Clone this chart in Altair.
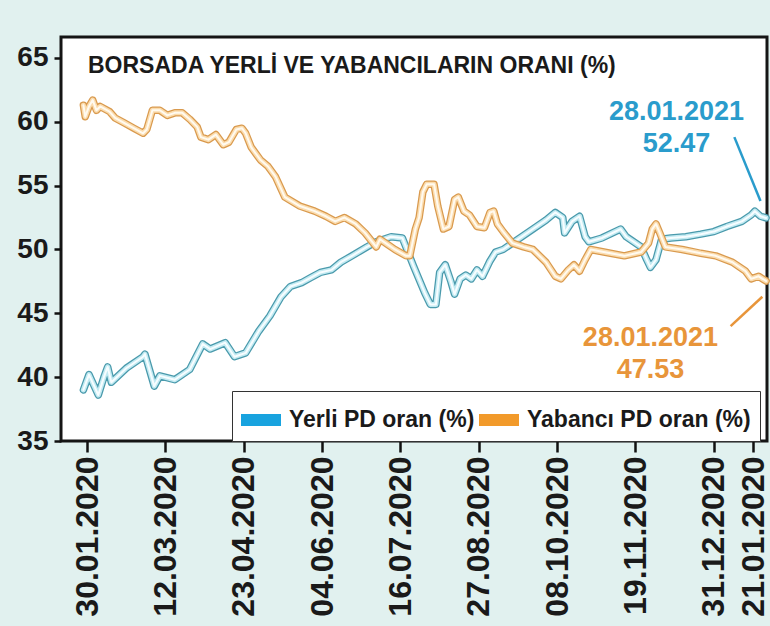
import altair as alt
import pandas as pd

# ---------------- data ----------------
yerli_dates = [
    "2020-01-28", "2020-01-31", "2020-02-05", "2020-02-08", "2020-02-10", "2020-02-12",
    "2020-02-20", "2020-02-29", "2020-03-01", "2020-03-06", "2020-03-09", "2020-03-17",
    "2020-03-25", "2020-04-01", "2020-04-05", "2020-04-13", "2020-04-18", "2020-04-24",
    "2020-05-01", "2020-05-07", "2020-05-13", "2020-05-18", "2020-05-24", "2020-05-29",
    "2020-06-03", "2020-06-09", "2020-06-14", "2020-06-20", "2020-06-28", "2020-07-03",
    "2020-07-11", "2020-07-17", "2020-07-23", "2020-07-29", "2020-08-01", "2020-08-04",
    "2020-08-06", "2020-08-09", "2020-08-12", "2020-08-14", "2020-08-17", "2020-08-20",
    "2020-08-23", "2020-08-26", "2020-08-29", "2020-09-02", "2020-09-05", "2020-09-09",
    "2020-09-14", "2020-09-25", "2020-10-02", "2020-10-07", "2020-10-11", "2020-10-12",
    "2020-10-16", "2020-10-20", "2020-10-23", "2020-10-25", "2020-11-01", "2020-11-11",
    "2020-11-14", "2020-11-22", "2020-11-25", "2020-11-27", "2020-11-30", "2020-12-03",
    "2020-12-08", "2020-12-16", "2020-12-24", "2020-12-31", "2021-01-07", "2021-01-15",
    "2021-01-20", "2021-01-22", "2021-01-25", "2021-01-28",
]
yerli_values = [
    39.0, 40.2, 38.6, 40.0, 40.8, 39.6,
    40.7, 41.6, 41.8, 39.3, 40.1, 39.8,
    40.6, 42.6, 42.2, 42.7, 41.6, 41.9,
    43.6, 44.8, 46.3, 47.1, 47.4, 47.8,
    48.2, 48.4, 49.0, 49.5, 50.2, 50.6,
    51.0, 50.9, 48.7, 46.6, 45.7, 45.7,
    48.2, 48.8, 47.5, 46.5, 47.7, 48.0,
    47.7, 48.4, 47.9, 49.1, 49.8, 50.0,
    50.5, 51.6, 52.3, 52.9, 52.5, 51.3,
    52.2, 52.6, 51.0, 50.6, 50.9, 51.6,
    51.0, 50.2, 49.2, 48.6, 49.2, 50.8,
    50.9, 51.0, 51.2, 51.4, 51.8, 52.2,
    52.7, 53.0, 52.6, 52.47,
]

yabanci_dates = [
    "2020-01-28", "2020-01-29", "2020-01-31", "2020-02-02", "2020-02-04", "2020-02-06",
    "2020-02-11", "2020-02-14", "2020-02-19", "2020-02-24", "2020-02-29", "2020-03-02",
    "2020-03-05", "2020-03-09", "2020-03-13", "2020-03-17", "2020-03-21", "2020-03-25",
    "2020-03-29", "2020-03-31", "2020-04-04", "2020-04-08", "2020-04-12", "2020-04-15",
    "2020-04-19", "2020-04-22", "2020-04-24", "2020-04-27", "2020-04-30", "2020-05-02",
    "2020-05-06", "2020-05-10", "2020-05-15", "2020-05-23", "2020-05-31", "2020-06-06",
    "2020-06-11", "2020-06-16", "2020-06-22", "2020-06-27", "2020-07-03", "2020-07-05",
    "2020-07-09", "2020-07-13", "2020-07-19", "2020-07-21", "2020-07-24", "2020-07-26",
    "2020-07-28", "2020-07-30", "2020-08-03", "2020-08-05", "2020-08-08", "2020-08-11",
    "2020-08-14", "2020-08-16", "2020-08-19", "2020-08-22", "2020-08-26", "2020-08-30",
    "2020-09-02", "2020-09-04", "2020-09-06", "2020-09-09", "2020-09-14", "2020-09-20",
    "2020-09-25", "2020-10-02", "2020-10-07", "2020-10-10", "2020-10-14", "2020-10-17",
    "2020-10-20", "2020-10-23", "2020-10-26", "2020-11-02", "2020-11-13", "2020-11-22",
    "2020-11-26", "2020-11-28", "2020-11-30", "2020-12-02", "2020-12-05", "2020-12-14",
    "2020-12-24", "2021-01-01", "2021-01-10", "2021-01-17", "2021-01-20", "2021-01-24",
    "2021-01-28",
]
yabanci_values = [
    61.3, 60.4, 61.2, 61.7, 60.9, 61.2,
    60.8, 60.3, 59.9, 59.5, 59.1, 59.4,
    60.9, 60.9, 60.5, 60.7, 60.7, 60.2,
    59.6, 58.8, 58.6, 59.0, 58.2, 58.4,
    59.4, 59.5, 59.1, 58.0, 57.4, 57.0,
    56.5, 55.7, 54.1, 53.4, 53.0, 52.6,
    52.2, 52.5, 52.0, 51.3, 50.2, 50.8,
    50.4, 50.0, 49.5, 49.5, 51.6, 52.5,
    54.5, 55.1, 55.1, 53.4, 51.6, 51.8,
    53.9, 54.1, 53.0, 52.7, 51.8, 51.7,
    52.9, 53.0, 52.0, 51.4, 50.5, 50.2,
    50.0, 49.0, 47.9, 47.7, 48.4, 48.8,
    48.3, 49.2, 50.0, 49.8, 49.5, 49.8,
    50.5, 51.6, 52.0, 51.3, 50.2, 50.0,
    49.7, 49.5, 49.0, 48.3, 47.7, 47.9,
    47.53,
]

SER_Y = "Yerli PD oran (%)"
SER_B = "Yabancı PD oran (%)"
series_names = [SER_Y, SER_B]
legend_colors = ["#18a3df", "#f29a2a"]

title_text = "BORSADA YERLİ VE YABANCILARIN ORANI (%)"

y_ticks = [35, 40, 45, 50, 55, 60, 65]
x_ticks = [(2020, 1, 30), (2020, 3, 12), (2020, 4, 23), (2020, 6, 4), (2020, 7, 16),
           (2020, 8, 27), (2020, 10, 8), (2020, 11, 19), (2020, 12, 31), (2021, 1, 21)]

# annotations (label anchor in data units)
ann_dates = ["2020-12-11", "2020-11-27"]
ann_values = [60.16, 42.42]
ann_texts = ["28.01.2021\n52.47", "28.01.2021\n47.53"]
ann_colors = ["#2a9ccc", "#e8953a"]
# leader lines
lead_d1 = ["2021-01-11", "2021-01-09"]
lead_v1 = [58.8, 44.0]
lead_d2 = ["2021-01-25", "2021-01-26"]
lead_v2 = [53.8, 46.3]

# ---------------- frames ----------------
df = pd.concat([
    pd.DataFrame({"date": pd.to_datetime(yerli_dates), "value": yerli_values, "series": SER_Y}),
    pd.DataFrame({"date": pd.to_datetime(yabanci_dates), "value": yabanci_values, "series": SER_B}),
], ignore_index=True)

ann_df = pd.DataFrame({"date": pd.to_datetime(ann_dates), "value": ann_values,
                       "label": ann_texts, "col": ann_colors})
lead_df = pd.DataFrame({"d1": pd.to_datetime(lead_d1), "v1": lead_v1,
                        "d2": pd.to_datetime(lead_d2), "v2": lead_v2, "col": ann_colors})

FONT = "Liberation Sans, Arial, sans-serif"

W, H = 706, 404

x_scale = alt.Scale(domain=[alt.DateTime(year=2020, month=1, date=16),
                            alt.DateTime(year=2021, month=1, date=28, hours=12)])
y_scale = alt.Scale(domain=[35, 66.64], nice=False, zero=False)

x_axis = alt.Axis(
    values=[alt.DateTime(year=a, month=b, date=c) for a, b, c in x_ticks],
    format="%d.%m.%Y",
    labelExpr="datum.label == '21.01.2021' ? '21.01.2020' : datum.label",
    labelAngle=270, labelFont=FONT, labelFontSize=32, labelFontWeight="bold",
    labelColor="#1a1a1a", tickSize=11, tickWidth=2.5, tickColor="#111",
    labelPadding=4, domain=False, grid=False, title=None, labelOverlap=False,
    labelBound=False, labelFlush=False, labelLimit=400,
)
y_axis = alt.Axis(
    values=y_ticks, labelFont=FONT, labelFontSize=28, labelFontWeight="bold",
    labelColor="#1a1a1a", tickSize=7, tickWidth=2.5, tickColor="#111",
    labelPadding=6, domain=False, grid=False, title=None, labelOverlap=False,
    labelBaseline="middle", labelLimit=200,
)

X = alt.X("date:T", scale=x_scale, axis=x_axis)
Y = alt.Y("value:Q", scale=y_scale, axis=y_axis)

base = alt.Chart(df)

tube = {
    SER_Y: [("#4a9aac", 7.5), ("#c2eaf2", 5), ("#f7fdff", 2)],
    SER_B: [("#d99a4e", 7.5), ("#fbdcae", 5), ("#fffaf0", 2)],
}

layers = []
for s in series_names:
    for col, w in tube[s]:
        layers.append(
            base.transform_filter(alt.datum.series == s)
            .mark_line(color=col, strokeWidth=w, strokeJoin="round", strokeCap="round")
            .encode(x=X, y=Y)
        )

legend_layer = base.mark_square(opacity=0, size=1).encode(
    x=X, y=Y,
    color=alt.Color(
        "series:N",
        scale=alt.Scale(domain=series_names, range=legend_colors),
        legend=alt.Legend(
            title=None, orient="none", legendX=171, legendY=354,
            direction="horizontal",
            symbolType="M-1,-0.3L1,-0.3L1,0.3L-1,0.3Z", symbolSize=1600,
            symbolOpacity=1, symbolStrokeWidth=0,
            labelFont=FONT, labelFontSize=23, labelFontWeight="bold",
            labelColor="#1a1a1a", labelLimit=400, labelOffset=8,
            columnPadding=4, padding=9, strokeColor="#333", fillColor="white",
            cornerRadius=0,
        ),
    ),
)

title_layer = alt.Chart(pd.DataFrame({"t": [title_text]})).mark_text(
    align="left", baseline="alphabetic", font=FONT, fontSize=23,
    fontWeight="bold", color="#1a1a1a",
).encode(x=alt.value(27), y=alt.value(36), text="t:N")

ann_layer = alt.Chart(ann_df).mark_text(
    align="center", baseline="alphabetic", font=FONT, fontSize=27,
    fontWeight="bold", lineBreak="\n", lineHeight=32,
).encode(
    x=alt.X("date:T", scale=x_scale), y=alt.Y("value:Q", scale=y_scale),
    text="label:N", color=alt.Color("col:N", scale=None),
)

lead_layer = alt.Chart(lead_df).mark_rule(strokeWidth=2.5).encode(
    x=alt.X("d1:T", scale=x_scale), x2="d2:T",
    y=alt.Y("v1:Q", scale=y_scale), y2="v2:Q",
    color=alt.Color("col:N", scale=None),
)

chart = alt.layer(*layers, legend_layer, title_layer, ann_layer, lead_layer).resolve_scale(
    color="independent"
).properties(
    width=W, height=H,
    background="#e1f1ef",
    padding={"left": 61, "top": 37, "right": 3, "bottom": 185},
    autosize=alt.AutoSizeParams(type="none"),
).configure_view(
    fill="white", stroke="#151515", strokeWidth=3,
)

chart.save("out.html", embed_options={"renderer": "svg", "actions": False})
